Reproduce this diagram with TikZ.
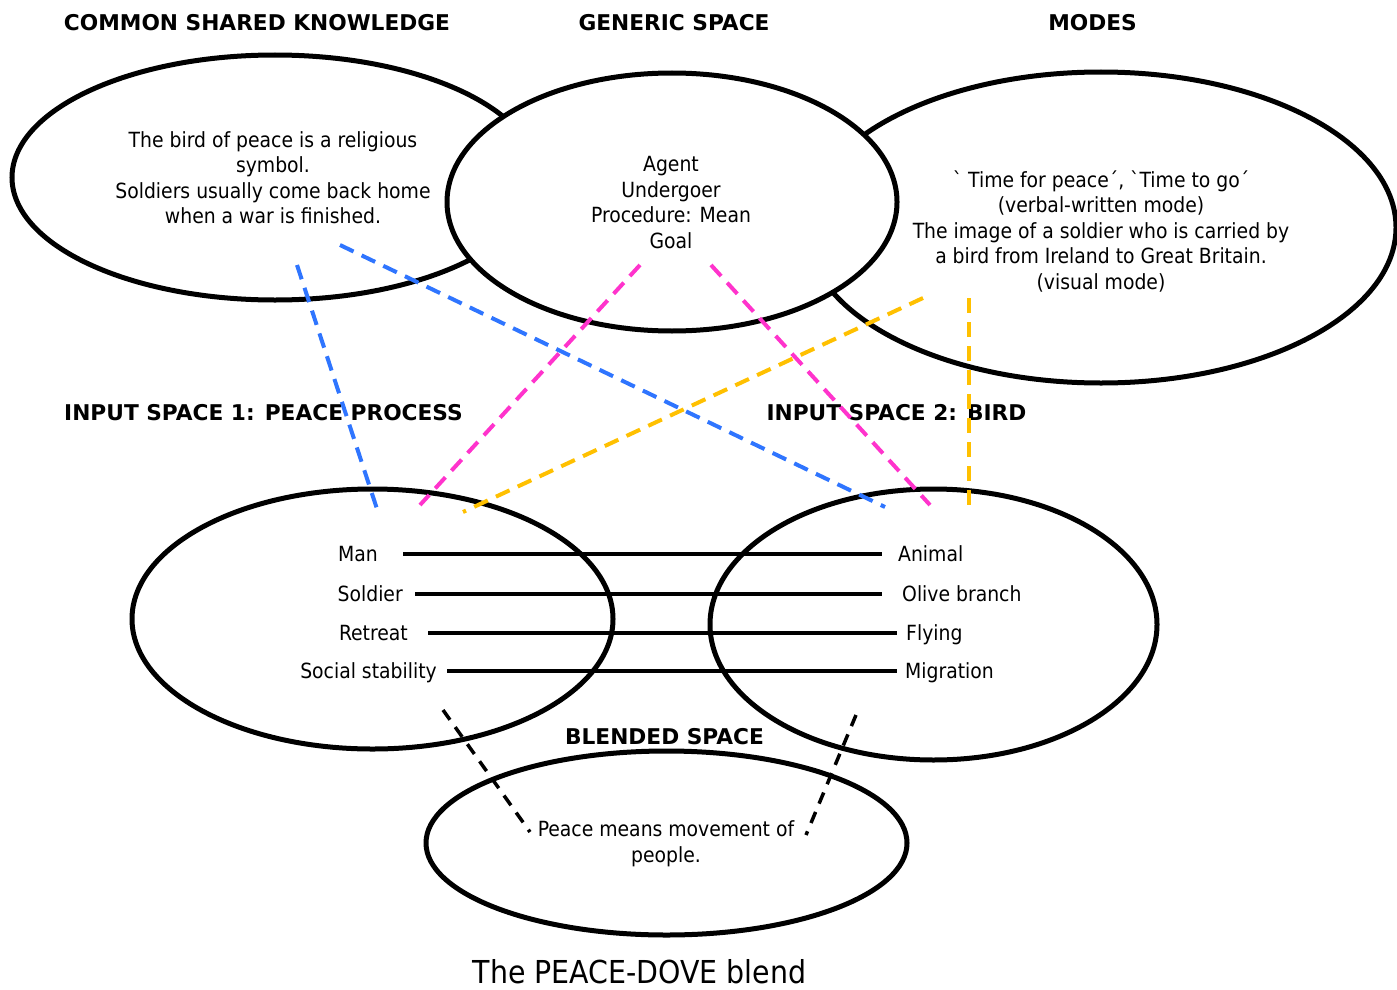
\documentclass[tikz,border=0pt]{standalone}
\usepackage{fontspec}
\setmainfont{DejaVu Sans Condensed}
\newfontfamily\headfont{DejaVu Sans}
\newfontfamily\rawfont[Ligatures=ResetAll]{DejaVu Sans Condensed}
\usetikzlibrary{shapes.geometric}
\definecolor{linkblue}{RGB}{47,117,255}
\definecolor{linkpink}{RGB}{255,51,204}
\definecolor{linkgold}{RGB}{255,192,0}
\newcommand{\gravemark}{{\rawfont\char"0060}}
\newcommand{\acutemark}{{\rawfont\char"00B4}}
\begin{document}
\begin{tikzpicture}[x=1pt,y=-1pt,
  space/.style={draw, ellipse, line width=5pt, inner sep=0pt},
  heading/.style={font=\headfont\bfseries\fontsize{21.7}{26}\selectfont, inner sep=0pt, text height=15.8pt, text depth=0pt},
  body/.style={font=\fontsize{20.9}{25.5}\selectfont, align=center, inner sep=0pt},
  item/.style={font=\fontsize{20.9}{25.5}\selectfont, inner sep=0pt, text height=15.2pt, text depth=0pt},
  link/.style={line width=4pt, dash pattern=on 15pt off 9pt},
  blendlink/.style={line width=3.5pt, dash pattern=on 12pt off 9pt},
  match/.style={line width=3.2pt}
]
\useasboundingbox (0,0) rectangle (1397,990);

% upper spaces: the generic space lies over the other two
\node[space, fill=white, minimum width=526pt, minimum height=245pt] (common) at (275,177.5) {};
\node[space, fill=white, minimum width=590pt, minimum height=311pt] (modes) at (1101,227.5) {};
\node[space, fill=white, minimum width=450pt, minimum height=258pt] (generic) at (672,202) {};

% input and blended spaces
\node[space, minimum width=481pt, minimum height=260pt] (input1) at (372.5,619) {};
\node[space, minimum width=447pt, minimum height=271pt] (input2) at (933.5,624.5) {};
\node[space, minimum width=481pt, minimum height=184pt] (blend) at (666.5,843) {};

% headings
\node[heading] (hcommon) at (257,23) {COMMON SHARED KNOWLEDGE};
\node[heading] (hgeneric) at (674,23) {GENERIC SPACE};
\node[heading] (hmodes) at (1092.5,23) {MODES};
\node[heading] (hinput1) at (263.5,413) {INPUT SPACE 1: PEACE PROCESS};
\node[heading] (hinput2) at (896.5,413) {INPUT SPACE 2: BIRD};
\node[heading] (hblend) at (664.5,737) {BLENDED SPACE};

% contents of the spaces
\node[body] (tcommon) at (273,177.5) {The bird of peace is a religious\\symbol.\\Soldiers usually come back home\\when a war is finished.};
\node[body] (tgeneric) at (671,202.5) {Agent\\Undergoer\\Procedure: Mean\\Goal};
\node[body] (tmodes) at (1101,231.5) {\gravemark\ Time for peace\acutemark, \gravemark Time to go\acutemark\\(verbal-written mode)\\The image of a soldier who is carried by\\a bird from Ireland to Great Britain.\\(visual mode)};
\node[body] (tblend) at (666,843.5) {Peace means movement of\\people.};

% elements of the two inputs
\node[item, anchor=east] (man) at (378,554) {Man};
\node[item, anchor=east] (soldier) at (403,594) {Soldier};
\node[item, anchor=east] (retreat) at (408,633) {Retreat};
\node[item, anchor=east] (stability) at (437,671) {Social stability};
\node[item, anchor=west] (animal) at (898,554) {Animal};
\node[item, anchor=west] (olive) at (902,594) {Olive branch};
\node[item, anchor=west] (flying) at (906,633) {Flying};
\node[item, anchor=west] (migration) at (905,671) {Migration};

% cross-space mappings
\draw[match, shorten <=25pt, shorten >=16pt] (man.east) -- (animal.west);
\draw[match, shorten <=12pt, shorten >=20pt] (soldier.east) -- (olive.west);
\draw[match, shorten <=20pt, shorten >=9pt] (retreat.east) -- (flying.west);
\draw[match, shorten <=10pt, shorten >=8pt] (stability.east) -- (migration.west);

% projections between the spaces
\coordinate (b1s) at (297,265); \coordinate (b1e) at (378,512);
\coordinate (b2s) at (340,245); \coordinate (b2e) at (885,507);
\coordinate (p1s) at (640,265); \coordinate (p1e) at (420,505);
\coordinate (p2s) at (711,265); \coordinate (p2e) at (930,505);
\coordinate (o1s) at (923,298); \coordinate (o1e) at (463,512);
\coordinate (o2s) at (969,298); \coordinate (o2e) at (969,512);
\coordinate (k1s) at (443,710); \coordinate (k1e) at (530,832);
\coordinate (k2s) at (856,715); \coordinate (k2e) at (806,835);

\draw[link, linkblue] (b1s) -- (b1e);
\draw[link, linkblue] (b2s) -- (b2e);
\draw[link, linkpink] (p1s) -- (p1e);
\draw[link, linkpink] (p2s) -- (p2e);
\draw[link, linkgold] (o1s) -- (o1e);
\draw[link, linkgold] (o2s) -- (o2e);
\draw[blendlink] (k1s) -- (k1e);
\draw[blendlink] (k2s) -- (k2e);

% caption
\node[font=\fontsize{31.6}{36}\selectfont, inner sep=0pt] (caption) at (639.5,972) {The PEACE-DOVE blend};
\end{tikzpicture}
\end{document}
